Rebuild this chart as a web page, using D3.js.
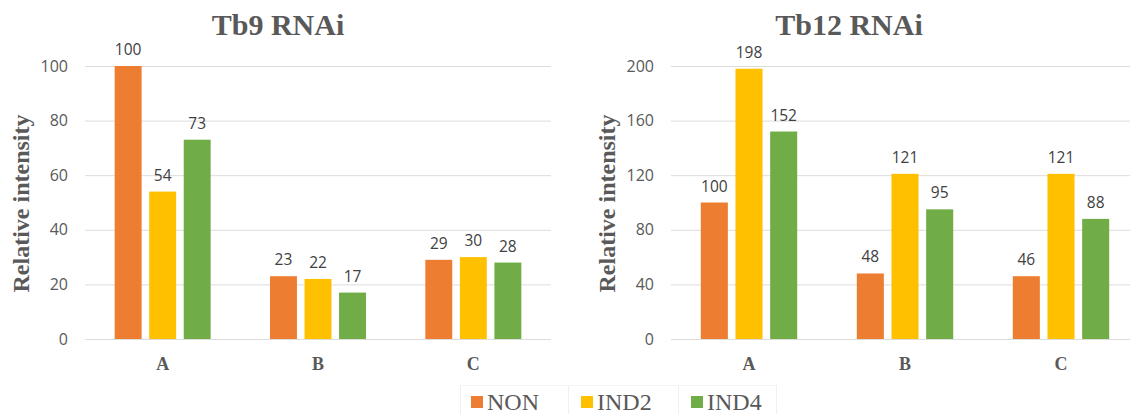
<!DOCTYPE html>
<html>
<head>
<meta charset="utf-8">
<script src="https://cdn.jsdelivr.net/npm/d3@7"></script>
<style>
  html, body { margin: 0; padding: 0; background: #fff; }
  svg { display: block; }
  .serif { font-family: "Liberation Serif", "Times New Roman", Tinos, "DejaVu Serif", serif; }
  .sans { font-family: "Open Sans", "Liberation Sans", sans-serif; }
</style>
</head>
<body>
<svg id="chart" width="1130" height="414"></svg>
<script>
// Categories and series
const categories = ["A", "B", "C"];
const seriesNames = ["NON", "IND2", "IND4"];
const seriesColors = ["#ED7D31", "#FFC000", "#70AD47"];

// Tb9 RNAi values
const tb9NON = [100, 23, 29];
const tb9IND2 = [54, 22, 30];
const tb9IND4 = [73, 17, 28];
const tb9Ticks = [0, 20, 40, 60, 80, 100];

// Tb12 RNAi values
const tb12NON = [100, 48, 46];
const tb12IND2 = [198, 121, 121];
const tb12IND4 = [152, 95, 88];
const tb12Ticks = [0, 40, 80, 120, 160, 200];

const svg = d3.select("#chart");
const textGray = "#595959";

function drawPanel(opts) {
  const { title, titleX, left, right, top, bottom, yMax, ticks, values, labelX } = opts;
  const g = svg.append("g");

  const y = d3.scaleLinear().domain([0, yMax]).range([bottom, top]);
  const x0 = d3.scaleBand().domain(categories).range([left, right])
    .paddingInner(0.382).paddingOuter(0.191);
  const x1 = d3.scaleBand().domain(seriesNames).range([0, x0.bandwidth()])
    .paddingInner(0.22).paddingOuter(0);

  // gridlines
  g.append("g").selectAll("line").data(ticks).join("line")
    .attr("x1", left).attr("x2", right)
    .attr("y1", d => y(d) + 0.5).attr("y2", d => y(d) + 0.5)
    .attr("stroke", "#dcdcdc").attr("stroke-width", 1);

  // y axis tick labels
  const yAxis = d3.axisLeft(y).tickValues(ticks).tickSize(0).tickPadding(0);
  const ya = g.append("g").attr("transform", `translate(${left - 17},0)`).call(yAxis)
    .attr("font-family", null).attr("font-size", null);
  ya.select(".domain").remove();
  ya.selectAll("text").attr("class", "sans")
    .style("font-size", "16px").attr("fill", textGray);

  // x axis category labels
  const xAxis = d3.axisBottom(x0).tickSize(0).tickPadding(0);
  const xa = g.append("g").attr("transform", `translate(0,${bottom + 18})`).call(xAxis)
    .attr("font-family", null).attr("font-size", null);
  xa.select(".domain").remove();
  xa.selectAll("text").attr("class", "serif")
    .style("font-size", "18px").style("font-weight", "bold")
    .attr("fill", textGray);

  // bars
  const rows = [];
  categories.forEach((c, ci) => {
    seriesNames.forEach((s, si) => rows.push({ c, s, si, v: values[si][ci] }));
  });
  g.append("g").selectAll("rect").data(rows).join("rect")
    .attr("x", d => x0(d.c) + x1(d.s))
    .attr("y", d => y(d.v))
    .attr("width", x1.bandwidth())
    .attr("height", d => y(0) - y(d.v))
    .attr("fill", d => seriesColors[d.si]);

  // value labels
  g.append("g").selectAll("text").data(rows).join("text")
    .attr("class", "sans")
    .attr("x", d => x0(d.c) + x1(d.s) + x1.bandwidth() / 2)
    .attr("y", d => y(d.v) - 11)
    .attr("text-anchor", "middle")
    .style("font-size", "15.5px").attr("fill", "#404040")
    .text(d => d.v);

  // title
  g.append("text")
    .attr("class", "serif")
    .attr("x", titleX).attr("y", 35)
    .attr("text-anchor", "middle")
    .style("font-size", "30px").style("font-weight", "bold")
    .attr("fill", textGray)
    .text(title);

  // y axis title
  g.append("text")
    .attr("class", "serif")
    .attr("transform", `translate(${labelX},${(top + bottom) / 2 + 1}) rotate(-90)`)
    .attr("text-anchor", "middle")
    .style("font-size", "24px").style("font-weight", "bold")
    .attr("fill", textGray)
    .text("Relative intensity");
}

drawPanel({
  title: "Tb9 RNAi", titleX: 278,
  left: 85, right: 551, top: 66, bottom: 339,
  yMax: 100, ticks: tb9Ticks,
  values: [tb9NON, tb9IND2, tb9IND4],
  labelX: 29
});

drawPanel({
  title: "Tb12 RNAi", titleX: 849,
  left: 671, right: 1139, top: 66, bottom: 339,
  yMax: 200, ticks: tb12Ticks,
  values: [tb12NON, tb12IND2, tb12IND4],
  labelX: 615
});

// legend
const legendX = [471, 581, 691];
const legend = svg.append("g");
const boxEdges = [460, 568, 678, 776];
legend.selectAll("line.sep").data(boxEdges).join("line")
  .attr("class", "sep")
  .attr("x1", d => d + 0.5).attr("x2", d => d + 0.5)
  .attr("y1", 385).attr("y2", 414)
  .attr("stroke", "#f0f0f0");
legend.append("line")
  .attr("x1", 460).attr("x2", 776).attr("y1", 385.5).attr("y2", 385.5)
  .attr("stroke", "#f4f4f4");
const items = legend.selectAll("g.item").data(seriesNames).join("g")
  .attr("class", "item")
  .attr("transform", (d, i) => `translate(${legendX[i]},0)`);
items.append("rect")
  .attr("x", 0).attr("y", 396).attr("width", 12).attr("height", 12)
  .attr("fill", (d, i) => seriesColors[i]);
items.append("text")
  .attr("class", "serif")
  .attr("x", 16).attr("y", 410)
  .style("font-size", "24px").attr("fill", textGray)
  .text(d => d);
</script>
</body>
</html>
